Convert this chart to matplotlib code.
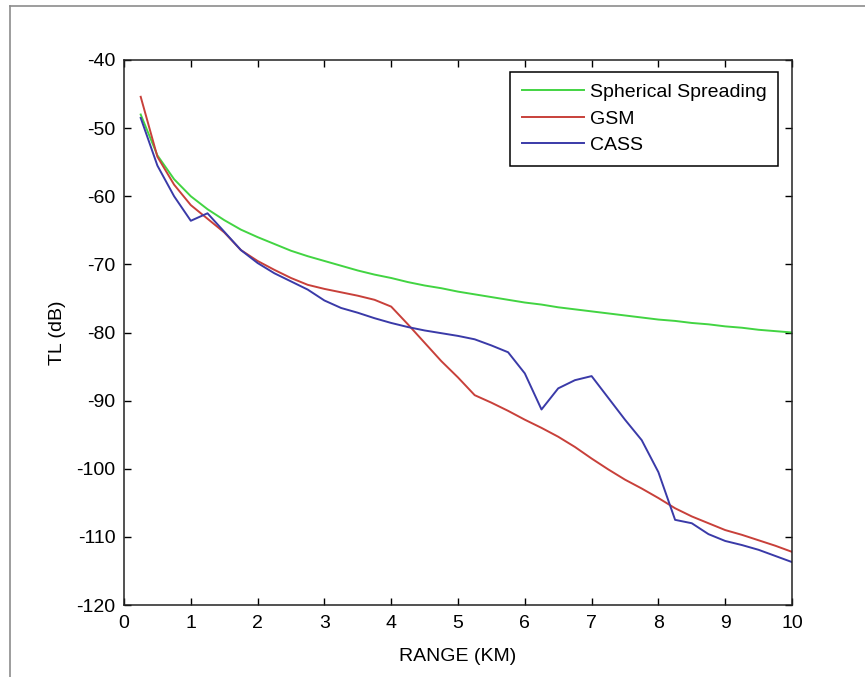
import matplotlib
matplotlib.use("Agg")
import matplotlib.pyplot as plt
from matplotlib.lines import Line2D

plt.rcParams['font.family'] = ['Liberation Sans', 'DejaVu Sans']
plt.rcParams['axes.unicode_minus'] = False

# range in km, one sample every 0.25 km
range_km = [0.25, 0.5, 0.75, 1.0, 1.25, 1.5, 1.75, 2.0, 2.25, 2.5,
            2.75, 3.0, 3.25, 3.5, 3.75, 4.0, 4.25, 4.5, 4.75, 5.0,
            5.25, 5.5, 5.75, 6.0, 6.25, 6.5, 6.75, 7.0, 7.25, 7.5,
            7.75, 8.0, 8.25, 8.5, 8.75, 9.0, 9.25, 9.5, 9.75, 10.0]

# transmission loss (dB)
tl_spherical = [-48.0, -54.0, -57.5, -60.0, -61.9, -63.5, -64.9, -66.0, -67.0, -68.0,
                -68.8, -69.5, -70.2, -70.9, -71.5, -72.0, -72.6, -73.1, -73.5, -74.0,
                -74.4, -74.8, -75.2, -75.6, -75.9, -76.3, -76.6, -76.9, -77.2, -77.5,
                -77.8, -78.1, -78.3, -78.6, -78.8, -79.1, -79.3, -79.6, -79.8, -80.0]

tl_gsm = [-45.4, -54.2, -58.3, -61.3, -63.3, -65.3, -67.9, -69.5, -70.8, -72.0,
          -73.0, -73.6, -74.1, -74.6, -75.2, -76.2, -78.8, -81.5, -84.2, -86.6,
          -89.2, -90.3, -91.5, -92.8, -94.0, -95.3, -96.8, -98.5, -100.1, -101.6,
          -102.9, -104.3, -105.8, -107.0, -108.0, -109.0, -109.7, -110.5, -111.3, -112.2]

tl_cass = [-48.5, -55.5, -60.0, -63.6, -62.5, -65.2, -67.9, -69.8, -71.3, -72.5,
           -73.7, -75.3, -76.4, -77.1, -77.9, -78.6, -79.2, -79.7, -80.1, -80.5,
           -81.0, -81.9, -82.9, -86.0, -91.3, -88.2, -87.0, -86.4, -89.6, -92.8,
           -95.8, -100.5, -107.5, -108.0, -109.6, -110.6, -111.2, -111.9, -112.8, -113.7]

fig = plt.figure(figsize=(8.65, 6.77), dpi=100)
fig.patch.set_facecolor('white')

# grey frame lines along the top and left edge
fig.add_artist(Line2D([10 / 865, 10 / 865], [0, 1 - 6 / 677], color='#8c8c8c', lw=1.2))
fig.add_artist(Line2D([10 / 865, 1], [1 - 6 / 677, 1 - 6 / 677], color='#8c8c8c', lw=1.2))

ax = fig.add_axes([124 / 865, 1 - 605 / 677, 668 / 865, 545 / 677])

ax.plot(range_km, tl_spherical, color='#42d442', lw=1.4, label='Spherical Spreading')
ax.plot(range_km, tl_gsm, color='#c8403a', lw=1.4, label='GSM')
ax.plot(range_km, tl_cass, color='#3a3aa8', lw=1.4, label='CASS')

ax.set_xlim(0, 10)
ax.set_ylim(-120, -40)
ax.set_xticks(range(0, 11))
ax.set_yticks(range(-120, -39, 10))
ax.tick_params(direction='in', length=5, width=1, top=True, right=True,
               labelsize=14, colors='black')
ax.tick_params(axis='x', pad=7)
ax.tick_params(axis='y', pad=6)
for s in ax.spines.values():
    s.set_linewidth(1.1)
    s.set_color('#222222')

ax.set_xlabel('RANGE (KM)', fontsize=14)
ax.set_ylabel('TL (dB)', fontsize=14)
ax.xaxis.set_label_coords(0.5, -0.078)
ax.yaxis.set_label_coords(-0.087, 0.5)

leg = ax.legend(loc='upper right', bbox_to_anchor=(778 / 865, 1 - 72 / 677),
                bbox_transform=fig.transFigure, fontsize=14, fancybox=False,
                framealpha=1, edgecolor='black', handlelength=3.2,
                handletextpad=0.3, labelspacing=0.45, borderpad=0.6,
                borderaxespad=0)
leg.get_frame().set_linewidth(1.1)

fig.savefig('out.png', dpi=100, facecolor='white')
